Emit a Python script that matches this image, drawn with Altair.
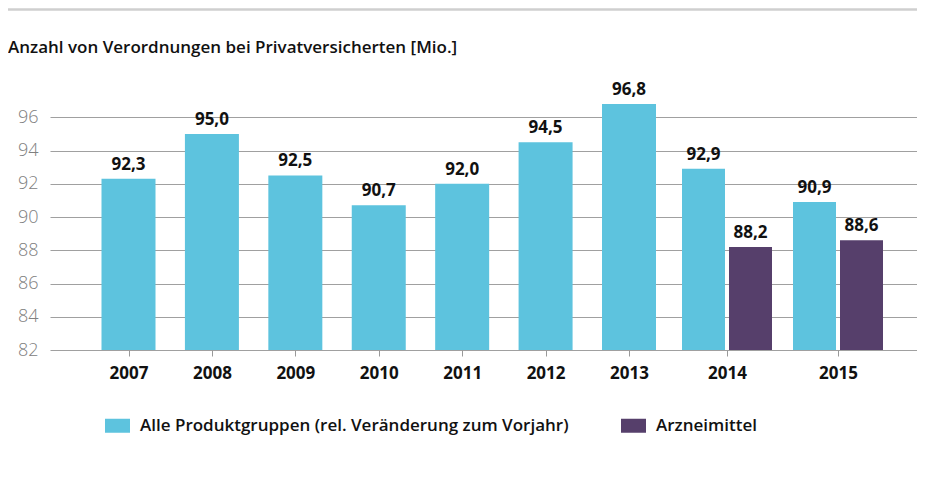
import altair as alt
import pandas as pd

# ---- data ----
years = [2007, 2008, 2009, 2010, 2011, 2012, 2013, 2014, 2015]
alle = [92.3, 95.0, 92.5, 90.7, 92.0, 94.5, 96.8, 92.9, 90.9]
arznei = [None, None, None, None, None, None, None, 88.2, 88.6]
series = ["Alle Produktgruppen (rel. Veränderung zum Vorjahr)", "Arzneimittel"]
colors = ["#5dc3de", "#563f6b"]
y_ticks = [82, 84, 86, 88, 90, 92, 94, 96]
title_text = "Anzahl von Verordnungen bei Privatversicherten [Mio.]"

FONT = "Open Sans"

rows = []
for yr, a, z in zip(years, alle, arznei):
    paired = z is not None
    rows.append({"year": yr, "series": series[0], "value": a, "paired": paired})
    if paired:
        rows.append({"year": yr, "series": series[1], "value": z, "paired": paired})
df = pd.DataFrame(rows)

W, H = 867, 266

x_enc = alt.X(
    "year:Q",
    title=None,
    scale=alt.Scale(domain=[2006, 2007, 2013, 2014, 2015, 2016],
                    range=[0, 78.5, 579, 677, 788, W],
                    zero=False, nice=False, padding=0),
    axis=alt.Axis(values=years, format="d", grid=False, domain=False, ticks=True,
                  tickColor="#999999", tickSize=6, tickWidth=1,
                  labelFont=FONT, labelFontSize=17, labelFontWeight="bold",
                  labelColor="#111111", labelPadding=9),
)
y_enc = alt.Y(
    "value:Q",
    title=None,
    scale=alt.Scale(domain=[82, 98], zero=False, nice=False, padding=0),
    axis=alt.Axis(values=y_ticks, grid=True, gridColor="#a0a0a0", gridWidth=1.2,
                  domain=False, ticks=False, labelFont=FONT, labelFontSize=18,
                  labelFontWeight=300, labelColor="#808080", labelPadding=12),
)
color_enc = alt.Color(
    "series:N",
    scale=alt.Scale(domain=series, range=colors),
    legend=alt.Legend(
        title=None, orient="none", legendX=55, legendY=329, direction="horizontal",
        symbolType="M-1,-0.56H1V0.56H-1Z", symbolSize=625, symbolStrokeWidth=0,
        symbolOpacity=1, labelFont=FONT, labelFontSize=17, labelFontWeight=600,
        labelColor="#111111", labelOffset=10, columnPadding=52, labelLimit=1000,
        padding=0,
    ),
)

base = alt.Chart(df).transform_calculate(
    label="replace(format(datum.value, '.1f'), '.', ',')"
)

single = base.transform_filter("!datum.paired")
left = base.transform_filter(
    alt.FieldEqualPredicate(field="series", equal=series[0])
).transform_filter("datum.paired")
right = base.transform_filter(
    alt.FieldEqualPredicate(field="series", equal=series[1])
)

txt_kw = dict(font=FONT, fontSize=17, fontWeight="bold", color="#111111",
              baseline="alphabetic", dy=-9)

bars_single = single.mark_bar(size=54, orient="vertical").encode(
    x=x_enc, y=y_enc, y2=alt.datum(82), color=color_enc)
bars_left = left.mark_bar(size=43, orient="vertical", xOffset=-23.5).encode(
    x=x_enc, y=y_enc, y2=alt.datum(82), color=color_enc)
bars_right = right.mark_bar(size=43, orient="vertical", xOffset=23.5).encode(
    x=x_enc, y=y_enc, y2=alt.datum(82), color=color_enc)

lab_single = single.mark_text(**txt_kw).encode(x=x_enc, y=y_enc, text="label:N")
lab_left = left.mark_text(xOffset=-23.5, **txt_kw).encode(x=x_enc, y=y_enc, text="label:N")
lab_right = right.mark_text(xOffset=23.5, **txt_kw).encode(x=x_enc, y=y_enc, text="label:N")

title_layer = alt.Chart(pd.DataFrame({"t": [title_text]})).mark_text(
    align="left", baseline="alphabetic", font=FONT, fontSize=17, fontWeight=600,
    color="#111111",
).encode(x=alt.value(-42), y=alt.value(-31), text="t:N")

top_line = alt.Chart(pd.DataFrame({"t": [0]})).mark_rule(
    color="#cfcfcf", strokeWidth=2.5
).encode(x=alt.value(-42), x2=alt.value(W), y=alt.value(-74.5))

chart = alt.layer(
    bars_single, bars_left, bars_right, lab_single, lab_left, lab_right,
    title_layer, top_line,
).properties(
    width=W, height=H,
    autosize=alt.AutoSizeParams(type="none"),
    padding={"left": 42, "top": 76, "right": 0, "bottom": 119},
    background="white",
).configure_view(stroke=None)

chart.save("out.html", embed_options={"renderer": "svg", "actions": False})
